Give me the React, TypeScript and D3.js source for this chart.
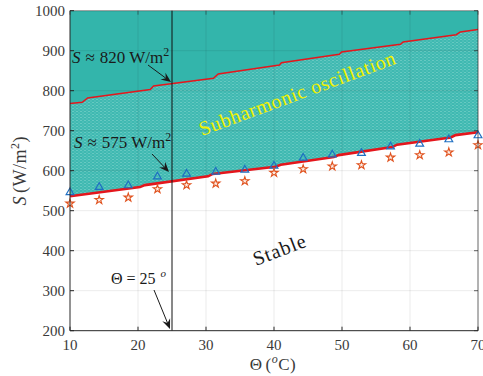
import React from "react";
import * as d3 from "d3";

const xTicks = [10, 20, 30, 40, 50, 60, 70];
const yTicks = [200, 300, 400, 500, 600, 700, 800, 900, 1000];

// Upper boundary (red thin line): [theta, S]
const upperBoundary: [number, number][] = [
  [10, 768], [11.8, 771], [12.6, 782], [21.8, 803], [22.3, 812],
  [31.1, 831], [31.8, 842], [40.8, 864], [41.1, 870], [49.6, 891],
  [49.95, 897], [58.6, 916], [59.0, 922], [66.8, 940], [67.4, 947], [70, 953],
];

// Lower boundary (red thick line): [theta, S]
const lowerBoundary: [number, number][] = [
  [10, 536], [20.3, 559], [21, 564], [30.3, 586], [31, 592], [40.2, 610],
  [41, 615], [48.8, 634], [49.5, 639], [57.4, 659], [58.1, 665], [66, 683],
  [66.7, 689], [70, 696],
];

const markerTheta = [10, 14.29, 18.57, 22.86, 27.14, 31.43, 35.71, 40, 44.29, 48.57, 52.86, 57.14, 61.43, 65.71, 70];
const triangleS = [546, 559, 563, 585, 592, 597, 602, 612, 632, 640, 644, 660, 667, 678, 688];
const starS = [518, 527, 533, 554, 564, 568, 574, 595, 604, 611, 614, 633, 639, 646, 664];

const W = 483, H = 376;
const L = 70, R = 478, T = 10.7, B = 330.7;
const FONT = "'Liberation Serif', 'Times New Roman', serif";

function Arrow({ x1, y1, x2, y2 }: { x1: number; y1: number; x2: number; y2: number }) {
  const dx = x2 - x1, dy = y2 - y1;
  const len = Math.hypot(dx, dy);
  const ux = dx / len, uy = dy / len;
  const px = -uy, py = ux;
  const hl = 10, hw = 4.2, notch = 6.5;
  const bx = x2 - ux * hl, by = y2 - uy * hl;
  const nx = x2 - ux * notch, ny = y2 - uy * notch;
  const head = `M${x2},${y2}L${bx + px * hw},${by + py * hw}L${nx},${ny}L${bx - px * hw},${by - py * hw}Z`;
  return (
    <g>
      <line x1={x1} y1={y1} x2={nx} y2={ny} stroke="#1a1a1a" strokeWidth={1} />
      <path d={head} fill="#1a1a1a" />
    </g>
  );
}

export default function App() {
  const x = d3.scaleLinear().domain([10, 70]).range([L, R]);
  const y = d3.scaleLinear().domain([200, 1000]).range([B, T]);
  const line = d3.line<[number, number]>().x((d) => x(d[0])).y((d) => y(d[1]));

  const solidRegion = line([...upperBoundary, [70, 1000], [10, 1000]]) + "Z";
  const patternRegion = line([...upperBoundary, ...lowerBoundary.slice().reverse()]) + "Z";

  const tri = d3.symbol(d3.symbolTriangle, 26)()!;
  const star = d3.symbol(d3.symbolStar, 22)()!;

  return (
    <svg width={W} height={H} style={{ position: "absolute", left: 0, top: 0, background: "#fff" }} fontFamily={FONT}>
      <defs>
        <pattern id="dots" width={4} height={3} patternUnits="userSpaceOnUse">
          <rect width={4} height={3} fill="#3fb9b1" />
          <rect x={0} y={0} width={2} height={1} fill="#66c9c2" />
          <rect x={2} y={1.5} width={2} height={1} fill="#5ac4bd" />
        </pattern>
        <clipPath id="plot">
          <rect x={L} y={T} width={R - L} height={B - T} />
        </clipPath>
      </defs>

      <g clipPath="url(#plot)">
        <path d={solidRegion} fill="#33b5ab" />
        <path d={patternRegion} fill="url(#dots)" />
      </g>

      {/* grid */}
      <g stroke="#000" strokeOpacity={0.08} strokeWidth={1}>
        {xTicks.slice(1, -1).map((t) => (
          <line key={"gx" + t} x1={x(t)} x2={x(t)} y1={T} y2={B} />
        ))}
        {yTicks.slice(1, -1).map((t) => (
          <line key={"gy" + t} x1={L} x2={R} y1={y(t)} y2={y(t)} />
        ))}
      </g>

      {/* red boundary lines */}
      <path d={line(upperBoundary)!} fill="none" stroke="#e4161c" strokeWidth={1.5} />
      <path d={line(lowerBoundary)!} fill="none" stroke="#e4161c" strokeWidth={2.6} />

      {/* vertical line at 25 */}
      <line x1={x(25)} x2={x(25)} y1={y(200)} y2={y(1000)} stroke="#111" strokeWidth={1} />

      {/* markers */}
      {markerTheta.map((t, i) => (
        <path key={"t" + i} d={tri} transform={`translate(${x(t)},${y(triangleS[i])})`} fill="none" stroke="#1f6fc2" strokeWidth={1.2} />
      ))}
      {markerTheta.map((t, i) => (
        <path key={"s" + i} d={star} transform={`translate(${x(t)},${y(starS[i])})`} fill="#fbe3d6" fillOpacity={0.6} stroke="#e0521e" strokeWidth={1.1} />
      ))}

      {/* axes box */}
      <g stroke="#262626" strokeWidth={1} fill="none">
        <line x1={L} x2={L} y1={T} y2={B} />
        <line x1={L} x2={R} y1={B} y2={B} />
        <line x1={R} x2={R} y1={T} y2={B} strokeOpacity={0.7} />
        <line x1={L} x2={R} y1={T} y2={T} strokeOpacity={0.5} />
        {xTicks.map((t) => (
          <g key={"xt" + t}>
            <line x1={x(t)} x2={x(t)} y1={B} y2={B - 4} />
            <line x1={x(t)} x2={x(t)} y1={T} y2={T + 4} strokeOpacity={0.5} />
          </g>
        ))}
        {yTicks.map((t) => (
          <g key={"yt" + t}>
            <line x1={L} x2={L + 4} y1={y(t)} y2={y(t)} />
            <line x1={R} x2={R - 4} y1={y(t)} y2={y(t)} strokeOpacity={0.7} />
          </g>
        ))}
      </g>

      {/* tick labels */}
      <g fill="#3a3a3a" fontSize={15}>
        {xTicks.map((t) => (
          <text key={"xl" + t} x={x(t)} y={350} textAnchor="middle">{t}</text>
        ))}
        {yTicks.map((t) => (
          <text key={"yl" + t} x={65} y={y(t) + 5} textAnchor="end">{t}</text>
        ))}
      </g>

      {/* axis labels */}
      <text x={273} y={370} textAnchor="middle" fontSize={17} fill="#3a3a3a" letterSpacing={0.5}>
        Θ<tspan dx={3}>(</tspan><tspan fontStyle="italic" fontSize={12} dy={-7}>o</tspan><tspan dy={7}>C)</tspan>
      </text>
      <text transform={`translate(26,${(T + B) / 2}) rotate(-90)`} textAnchor="middle" fontSize={18} fill="#3a3a3a" letterSpacing={0.5}>
        <tspan fontStyle="italic">S</tspan><tspan dx={3}>(W/m</tspan><tspan fontSize={12} dy={-7}>2</tspan><tspan dy={7}>)</tspan>
      </text>

      {/* annotations */}
      <text x={72} y={63} fontSize={17} fill="#1a1a1a">
        <tspan fontStyle="italic">S</tspan><tspan dx={5}>≈</tspan><tspan dx={5}>820 W/m</tspan><tspan fontSize={12} dy={-7}>2</tspan>
      </text>
      <Arrow x1={148} y1={65} x2={171} y2={82} />

      <text x={74} y={148} fontSize={17} fill="#1a1a1a">
        <tspan fontStyle="italic">S</tspan><tspan dx={5}>≈</tspan><tspan dx={5}>575 W/m</tspan><tspan fontSize={12} dy={-7}>2</tspan>
      </text>
      <Arrow x1={152} y1={154} x2={169} y2={172} />

      <text x={111} y={284} fontSize={16} fill="#1a1a1a">
        Θ<tspan dx={4}>=</tspan><tspan dx={4}>25</tspan><tspan dx={5} dy={-7} fontStyle="italic" fontSize={11}>o</tspan>
      </text>
      <Arrow x1={154} y1={290} x2={170} y2={329} />

      <text transform="translate(202,136) rotate(-20.4)" fontSize={20} fill="#f2f200" textLength={208} lengthAdjust="spacing">
        Subharmonic oscillation
      </text>
      <text transform="translate(256,266) rotate(-21)" fontSize={20} fill="#1a1a1a" textLength={55} lengthAdjust="spacing">
        Stable
      </text>
    </svg>
  );
}
